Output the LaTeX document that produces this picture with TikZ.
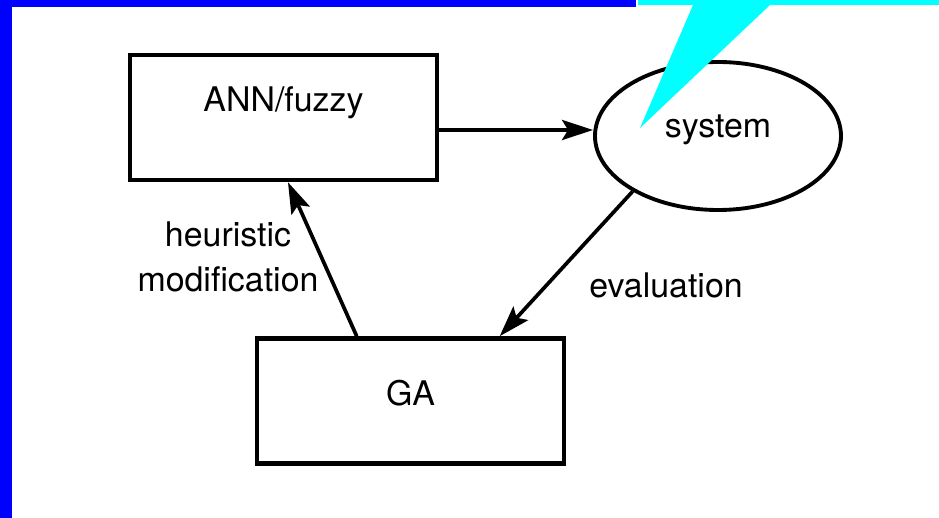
\documentclass[tikz,border=0pt]{standalone}
\usepackage{fontspec}
\setmainfont{TeX Gyre Heros}
\usetikzlibrary{arrows.meta,shapes.geometric}
\definecolor{pureblue}{RGB}{0,0,255}
\definecolor{purecyan}{RGB}{0,255,255}

\begin{document}
\begin{tikzpicture}[font=\fontsize{19.3}{25.6}\selectfont,
  blk/.style={draw, line width=2.6pt, minimum width=6.14cm, minimum height=2.5cm, text height=0.5cm},
  arr/.style={line width=2.1pt, -{Stealth[length=0.62cm,width=0.4cm,inset=0.12cm]}}]
\useasboundingbox (0,0) rectangle (18.78,10.36);

\fill[pureblue] (0,0) rectangle (0.24,10.36);
\fill[pureblue] (0,10.22) rectangle (12.72,10.36);
\fill[purecyan] (12.76,10.26) rectangle (18.78,10.36);

\node[blk, text depth=0.74cm] (ann) at (5.67,8.01) {ANN/fuzzy};
\node[blk, text depth=0.3cm] (ga) at (8.21,2.34) {GA};
\node[ellipse, draw, line width=2.2pt, minimum width=4.92cm, minimum height=2.96cm,
  text height=0.5cm, text depth=0.42cm] (sys) at (14.36,7.64) {system};

\node[align=center] (heur) at (4.56,5.22) {heuristic\\modification};
\node (eval) at (13.32,4.66) {evaluation};

\coordinate (annout) at ([yshift=-0.25cm]ann.east);
\draw[arr] (annout) -- (annout -| sys.west);
\draw[arr] ([xshift=2.04cm]ga.north west) -- ([xshift=0.09cm]ann.south);
\draw[arr] (sys.213) -- ([xshift=4.9cm]ga.north west);

\fill[purecyan] (13.86,10.26) -- (15.4,10.26) -- (12.8,7.8) -- cycle;
\end{tikzpicture}
\end{document}
